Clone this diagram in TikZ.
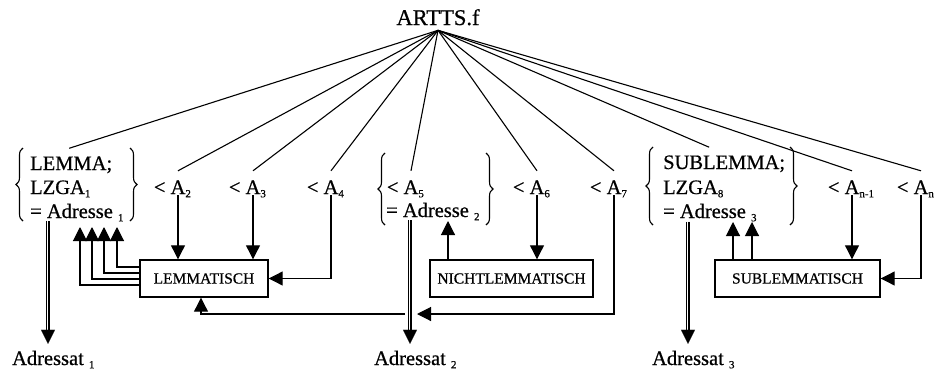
\documentclass[tikz,border=0pt]{standalone}
\usepackage{fontspec}
\setmainfont{Liberation Serif}[FakeBold=0.6]
\usetikzlibrary{arrows.meta,decorations.pathreplacing,calc}
\newcommand{\lowidx}[1]{\raisebox{-0.35ex}{\fontsize{11}{11}\selectfont #1}}
\tikzset{
  lab/.style={inner sep=0pt, font=\fontsize{20.5}{24}\selectfont},
  anode/.style={lab, anchor=base, text height=22pt, text depth=0pt, inner ysep=1pt, inner xsep=0pt},
  adr/.style={lab, anchor=base, outer ysep=7pt},
  procbox/.style={draw, line width=1.4pt, minimum height=37pt, inner sep=0pt, font=\fontsize{15.5}{17}\selectfont},
  fan/.style={line width=1.1pt},
  arr/.style={line width=1.1pt, -{Triangle[width=14pt,length=14pt]}},
  tiponly/.style={line width=0.1pt, -{Triangle[width=14pt,length=14pt]}},
  dbl/.style={line width=0.9pt, double, double distance=2pt, shorten >=9pt},
  brc/.style={line width=1.1pt, decorate, decoration={brace, amplitude=7pt}},
}
\begin{document}
\begin{tikzpicture}[x=1pt,y=-1pt]
\useasboundingbox (0,0) rectangle (940,370);
% root
\node[lab, anchor=base, outer ysep=5pt, font=\fontsize{22.5}{26}\selectfont] (art) at (438,25) {ARTTS.f};
% group 1
\node[lab, anchor=base west] (g1a) at (30,170) {LEMMA;};
\node[lab, anchor=base west] (g1b) at (30,194) {LZGA\lowidx{1}};
\node[lab, anchor=base west] (g1c) at (30,218) {= Adresse\ \lowidx{1}};
\draw[brc] (23,221) -- (23,148);
\draw[brc] (130,148) -- (130,221);
% group 2
\node[anode] (a5) at (411,194) {\llap{<\ }A\rlap{\lowidx{5}}};
\node[lab, anchor=base west] (g2b) at (386,217) {= Adresse\ \lowidx{2}};
\draw[brc] (385,225) -- (385,153);
\draw[brc] (486,153) -- (486,225);
% group 3
\node[lab, anchor=base west] (g3a) at (663,169) {SUBLEMMA;};
\node[lab, anchor=base west] (g3b) at (663,194) {LZGA\lowidx{8}};
\node[lab, anchor=base west] (g3c) at (663,218) {= Adresse\ \lowidx{3}};
\draw[brc] (653,225) -- (653,147);
\draw[brc] (790,147) -- (790,225);
% A nodes
\node[anode] (a2) at (178,194) {\llap{<\ }A\rlap{\lowidx{2}}};
\node[anode] (a3) at (253,194) {\llap{<\ }A\rlap{\lowidx{3}}};
\node[anode] (a4) at (331,194) {\llap{<\ }A\rlap{\lowidx{4}}};
\node[anode] (a6) at (537,194) {\llap{<\ }A\rlap{\lowidx{6}}};
\node[anode] (a7) at (614,194) {\llap{<\ }A\rlap{\lowidx{7}}};
\node[anode] (an1) at (852,194) {\llap{<\ }A\rlap{\lowidx{n-1}}};
\node[anode] (an) at (921,194) {\llap{<\ }A\rlap{\lowidx{n}}};
% fan
\foreach \t in {a2,a3,a4,a5,a6,a7,an1,an}
  \draw[fan] (art.south) -- (\t.north);
\draw[fan] (art.south) -- ([xshift=-2pt,yshift=8pt]g1a.north);
\draw[fan] (art.south) -- ([xshift=-15pt,yshift=8pt]g3a.north);
% boxes
\node[procbox, minimum width=128pt] (lem) at (204,278.5) {LEMMATISCH};
\node[procbox, minimum width=163pt] (nl) at (511.5,278.5) {NICHTLEMMATISCH};
\node[procbox, minimum width=165pt] (sl) at (797.5,278.5) {SUBLEMMATISCH};
% adressat
\node[adr] (ad1) at (48,365) {Adressat\rlap{\ \lowidx{1}}};
\node[adr] (ad2) at (410,365) {Adressat\rlap{\ \lowidx{2}}};
\node[adr] (ad3) at (688,365) {Adressat\rlap{\ \lowidx{3}}};
% lemmatisch arrows
\draw[arr] (a2.south) -- (a2.south |- lem.north);
\draw[arr] (a3.south) -- (a3.south |- lem.north);
\draw[arr] (a4.south) |- (lem.east);
\coordinate (u1) at (117,227);
\coordinate (u2) at (104,227);
\coordinate (u3) at (92,227);
\coordinate (u4) at (80,227);
\draw[arr] ([yshift=11.5pt]lem.west) -| (u1);
\draw[arr] ([yshift=5.5pt]lem.west) -| (u2);
\draw[arr] ([yshift=-0.5pt]lem.west) -| (u3);
\draw[arr] ([yshift=-6.5pt]lem.west) -| (u4);
% A7 loop
\coordinate (c7) at (417,314);
\coordinate (c7b) at (405,314);
\draw[arr] (a7.south) |- (c7);
\draw[arr] (c7b) -| ([xshift=-3pt]lem.south);
% nichtlemmatisch
\coordinate (n1) at (448,221);
\draw[arr] (nl.north -| n1) -- (n1);
\draw[arr] (a6.south) -- (a6.south |- nl.north);
% sublemmatisch
\coordinate (s1) at (733,222);
\coordinate (s2) at (752,222);
\draw[arr] (sl.north -| s1) -- (s1);
\draw[arr] (sl.north -| s2) -- (s2);
\draw[arr] (an1.south) -- (an1.south |- sl.north);
\draw[arr] (an.south) |- (sl.east);
% double arrows
\draw[dbl] (g1c.south -| ad1.north) -- (ad1.north);
\draw[tiponly] (g1c.south -| ad1.north) -- (ad1.north);
\draw[dbl] (g2b.south -| ad2.north) -- (ad2.north);
\draw[tiponly] (g2b.south -| ad2.north) -- (ad2.north);
\draw[dbl] (g3c.south -| ad3.north) -- (ad3.north);
\draw[tiponly] (g3c.south -| ad3.north) -- (ad3.north);
\end{tikzpicture}
\end{document}
